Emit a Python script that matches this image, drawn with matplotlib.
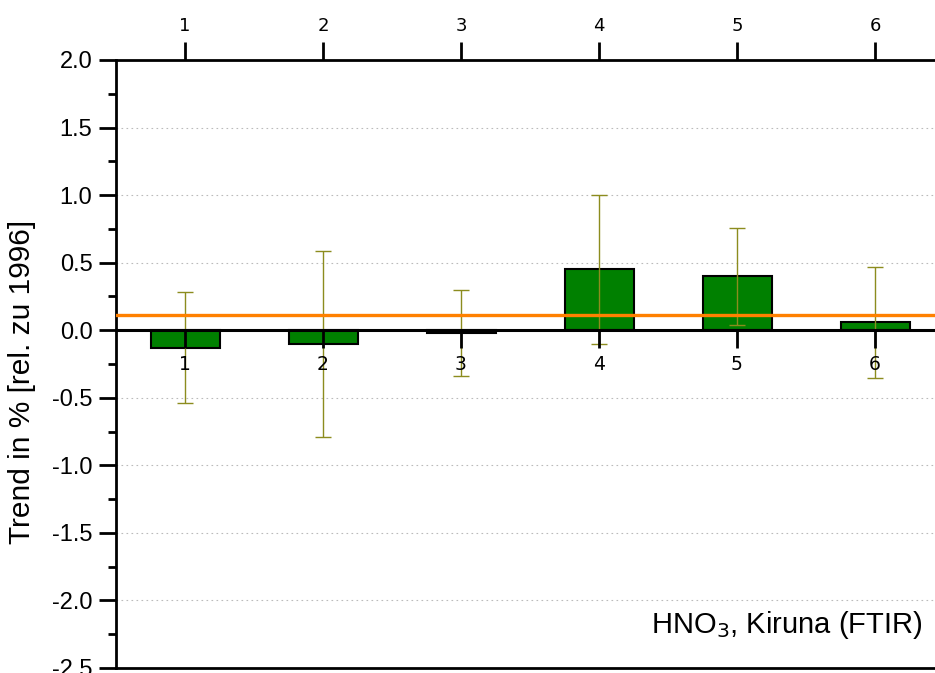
import numpy as np
import matplotlib
matplotlib.use('Agg')
import matplotlib.pyplot as plt
from matplotlib.ticker import MultipleLocator

# Daten (Trend in % rel. zu 1996)
kategorien = [1, 2, 3, 4, 5, 6]
trend = [-0.13, -0.10, -0.02, 0.45, 0.40, 0.06]
fehler = [0.41, 0.69, 0.32, 0.55, 0.36, 0.41]
mittel = 0.11

ymin, ymax = -2.5, 2.0

fig = plt.figure(figsize=(9.35, 6.73), dpi=100)
ax = fig.add_axes([116/935, 5/673, (944-116)/935, (668-60)/673])

ax.bar(kategorien, trend, width=0.5, color='#008000', edgecolor='black',
       linewidth=1.5, zorder=2)
ax.errorbar(kategorien, trend, yerr=fehler, fmt='none', ecolor='#8c8c1e',
            elinewidth=1.0, capsize=5.5, capthick=1.0, zorder=3)
ax.axhline(mittel, color='#ff8000', linewidth=2.4, zorder=4)

ax.set_xlim(0.5, 6.5)
ax.set_ylim(ymin, ymax)

# y-Achse
yticks = np.arange(ymin, ymax + 0.01, 0.5)
ax.set_yticks(yticks)
ax.set_yticklabels(['%.1f' % v for v in yticks],
                   fontfamily='Liberation Sans', fontsize=17)
ax.yaxis.set_minor_locator(MultipleLocator(0.25))
ax.tick_params(axis='y', which='major', direction='out', length=12, width=2,
               pad=5)
ax.tick_params(axis='y', which='minor', direction='out', length=6, width=2)
ax.set_ylabel('Trend in % [rel. zu 1996]', fontfamily='Liberation Sans',
              fontsize=21.5)
ax.yaxis.set_label_coords(-0.097, 0.47)

# Gitter
for v in yticks[1:-1]:
    if abs(v) > 1e-9:
        ax.axhline(v, color='#bbbbbb', linestyle=(0, (1.5, 3)), linewidth=0.8,
                   zorder=0)

# obere x-Achse
ax.set_xticks(kategorien)
ax.xaxis.tick_top()
ax.set_xticklabels([str(k) for k in kategorien], fontsize=13)
ax.tick_params(axis='x', which='major', direction='out', length=13, width=2,
               pad=5, bottom=False, labelbottom=False)
ax.tick_params(axis='x', which='minor', top=False, bottom=False)

# x-Achse bei Null
nullpos = (0 - ymin) / (ymax - ymin)
sec = ax.secondary_xaxis(nullpos)
sec.set_alignment('bottom')
sec.set_xticks(kategorien)
sec.set_xticklabels([str(k) for k in kategorien], fontsize=13.5)
sec.tick_params(axis='x', direction='out', length=13, width=2, pad=5)
sec.spines['bottom'].set_visible(True)
sec.spines['bottom'].set_linewidth(2.2)
sec.spines['top'].set_visible(False)
sec.set_zorder(5)

for s in ax.spines.values():
    s.set_linewidth(2)

ax.text(0.9745, 0.045, 'HNO$_3$, Kiruna (FTIR)', transform=ax.transAxes,
        ha='right', va='bottom', fontfamily='Liberation Sans', fontsize=21)

fig.savefig('out.png', dpi=100)
